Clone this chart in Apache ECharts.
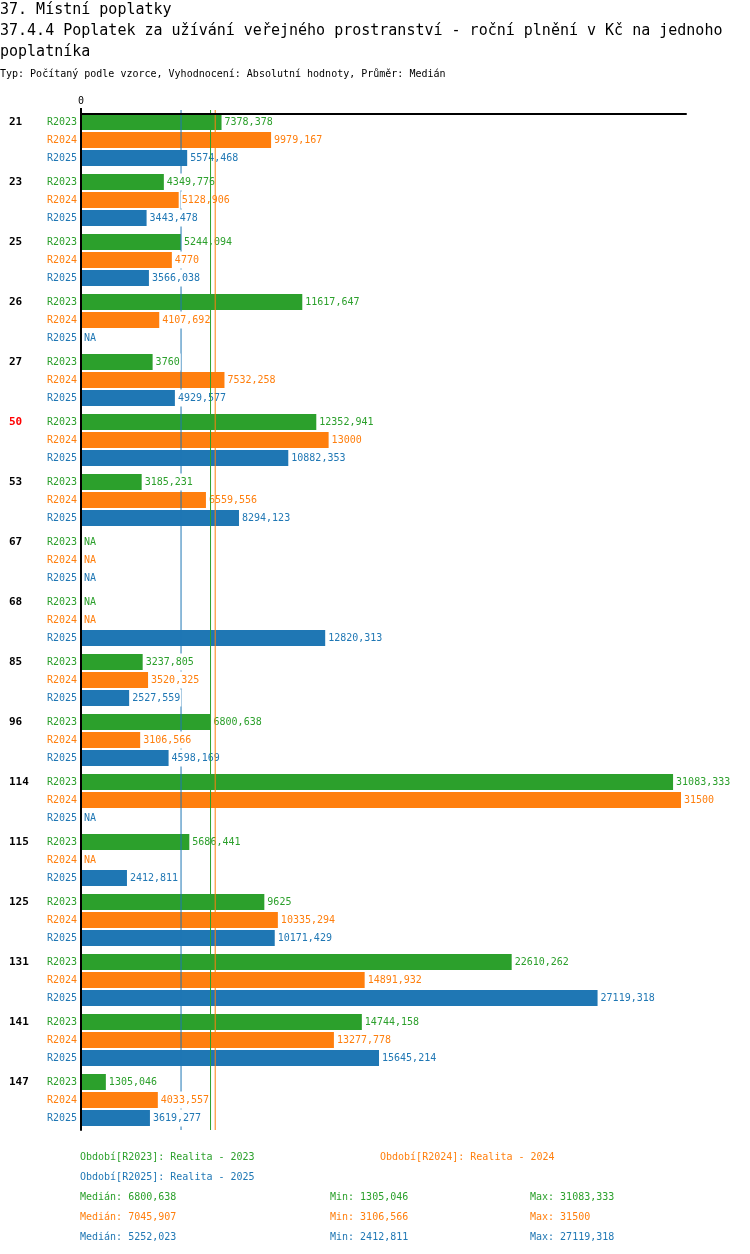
<!DOCTYPE html>
<html>
<head>
<meta charset="utf-8">
<script src="https://cdn.jsdelivr.net/npm/echarts@6/dist/echarts.min.js"></script>
<style>
  html, body { margin: 0; padding: 0; background: #fff; }
  #chart { width: 750px; height: 1254px; }
</style>
</head>
<body>
<div id="chart"></div>
<script>
// codes of the compared units, the highlighted one is drawn in red
const categories = ["21", "23", "25", "26", "27", "50", "53", "67", "68", "85", "96", "114", "115", "125", "131", "141", "147"];
const highlighted = "50";

const periods = ["R2023", "R2024", "R2025"];
const periodNames = ["Realita - 2023", "Realita - 2024", "Realita - 2025"];
const colors = ["#2ca02c", "#ff7f0e", "#1f77b4"];

const values2023 = [7378.378, 4349.776, 5244.094, 11617.647, 3760, 12352.941, 3185.231, null, null, 3237.805, 6800.638, 31083.333, 5686.441, 9625, 22610.262, 14744.158, 1305.046];
const values2024 = [9979.167, 5128.906, 4770, 4107.692, 7532.258, 13000, 6559.556, null, null, 3520.325, 3106.566, 31500, null, 10335.294, 14891.932, 13277.778, 4033.557];
const values2025 = [5574.468, 3443.478, 3566.038, null, 4929.577, 10882.353, 8294.123, null, 12820.313, 2527.559, 4598.169, null, 2412.811, 10171.429, 27119.318, 15645.214, 3619.277];

const medians = [6800.638, 7045.907, 5252.023];
const mins = [1305.046, 3106.566, 2412.811];
const maxs = [31083.333, 31500, 27119.318];

const allValues = [values2023, values2024, values2025];
const FONT = '"DejaVu Sans Mono", monospace';

function fmt(v) {
  return String(v).replace(".", ",");
}

const chart = echarts.init(document.getElementById("chart"), null, { renderer: "canvas" });

var series = [];
// bars (bottom layer)
allValues.forEach((vals, i) => {
  series.push({
    name: periods[i],
    type: "bar",
    xAxisIndex: 0,
    yAxisIndex: 0,
    data: vals,
    barWidth: 16,
    barGap: "12.5%",
    z: 2,
    itemStyle: { color: colors[i] },
  });
});
// value labels with white background
allValues.forEach((vals, i) => {
  series.push({
    name: periods[i] + "-label",
    type: "bar",
    xAxisIndex: 0,
    yAxisIndex: 1,
    data: vals.map((v) => (v === null ? 0 : v)),
    barWidth: 16,
    barGap: "12.5%",
    z: 4,
    silent: true,
    itemStyle: { color: "rgba(0,0,0,0)" },
    label: {
      show: true,
      position: "right",
      distance: 2,
      padding: [3, 1, 3, 1],
      lineHeight: 11,
      backgroundColor: "#fff",
      fontFamily: FONT,
      fontSize: 10,
      color: colors[i],
      formatter: (p) => (vals[p.dataIndex] === null ? "NA" : fmt(vals[p.dataIndex])),
    },
  });
});
// median lines: blue one under the labels, green and orange on top
medians.forEach((m, i) => {
  series.push({
    name: periods[i] + "-median",
    type: "line",
    xAxisIndex: 0,
    yAxisIndex: 2,
    data: [[m, 0], [m, 1]],
    symbol: "none",
    silent: true,
    z: i === 2 ? 3 : 5,
    lineStyle: { color: colors[i], width: 1 },
  });
});

const rowStyle = (c) => ({ color: c, fontFamily: FONT, fontSize: 10, lineHeight: 18, align: "right" });
const groupStyle = (c) => ({ color: c, fontFamily: FONT, fontSize: 11, fontWeight: "bold", lineHeight: 18, width: 38, align: "left" });

var texts = [
  { x: 0, y: 10, text: "37. Místní poplatky", size: 15, color: "#000" },
  { x: 0, y: 31.5, text: "37.4.4 Poplatek za užívání veřejného prostranství - roční plnění v Kč na jednoho", size: 15, color: "#000" },
  { x: 0, y: 52.5, text: "poplatníka", size: 15, color: "#000" },
  { x: 0, y: 74, text: "Typ: Počítaný podle vzorce, Vyhodnocení: Absolutní hodnoty, Průměr: Medián", size: 10, color: "#000" },
  { x: 80, y: 1157, text: "Období[" + periods[0] + "]: " + periodNames[0], size: 10, color: colors[0] },
  { x: 380, y: 1157, text: "Období[" + periods[1] + "]: " + periodNames[1], size: 10, color: colors[1] },
  { x: 80, y: 1177, text: "Období[" + periods[2] + "]: " + periodNames[2], size: 10, color: colors[2] },
];
periods.forEach((p, i) => {
  const y = 1197 + i * 20;
  texts.push({ x: 80, y: y, text: "Medián: " + fmt(medians[i]), size: 10, color: colors[i] });
  texts.push({ x: 330, y: y, text: "Min: " + fmt(mins[i]), size: 10, color: colors[i] });
  texts.push({ x: 530, y: y, text: "Max: " + fmt(maxs[i]), size: 10, color: colors[i] });
});

const option = {
  animation: false,
  backgroundColor: "#fff",
  grid: { left: 81, right: 64, top: 110, height: 1020 },
  xAxis: {
    type: "value",
    position: "top",
    offset: -4,
    min: 0,
    max: 31762,
    z: 10,
    axisLine: { show: true, onZero: false, lineStyle: { color: "#000", width: 2 } },
    axisTick: { show: true, customValues: [0], length: 6, lineStyle: { color: "#000", width: 2 } },
    axisLabel: { customValues: [0], margin: 8, color: "#000", fontFamily: FONT, fontSize: 10 },
    splitLine: { show: false },
  },
  yAxis: [
    {
      type: "category",
      data: categories,
      inverse: true,
      z: 10,
      axisLine: { show: true, onZero: false, lineStyle: { color: "#000", width: 2 } },
      axisTick: { show: false },
      axisLabel: {
        margin: 4,
        interval: 0,
        formatter: (val) =>
          "{" + (val === highlighted ? "gr" : "g") + "|" + val + "}{a|" + periods[0] + "}\n{b|" + periods[1] + "}\n{c|" + periods[2] + "}",
        rich: {
          g: groupStyle("#000"),
          gr: groupStyle("#ff0000"),
          a: rowStyle(colors[0]),
          b: rowStyle(colors[1]),
          c: rowStyle(colors[2]),
        },
      },
    },
    { type: "category", data: categories, inverse: true, show: false },
    { type: "value", min: 0, max: 1, show: false, splitLine: { show: false } },
  ],
  series: series,
  graphic: texts.map((t) => ({
    type: "text",
    x: t.x,
    y: t.y,
    silent: true,
    style: {
      text: t.text,
      fill: t.color,
      font: t.size + "px " + FONT,
      verticalAlign: "middle",
    },
  })),
};

chart.setOption(option);
</script>
</body>
</html>
